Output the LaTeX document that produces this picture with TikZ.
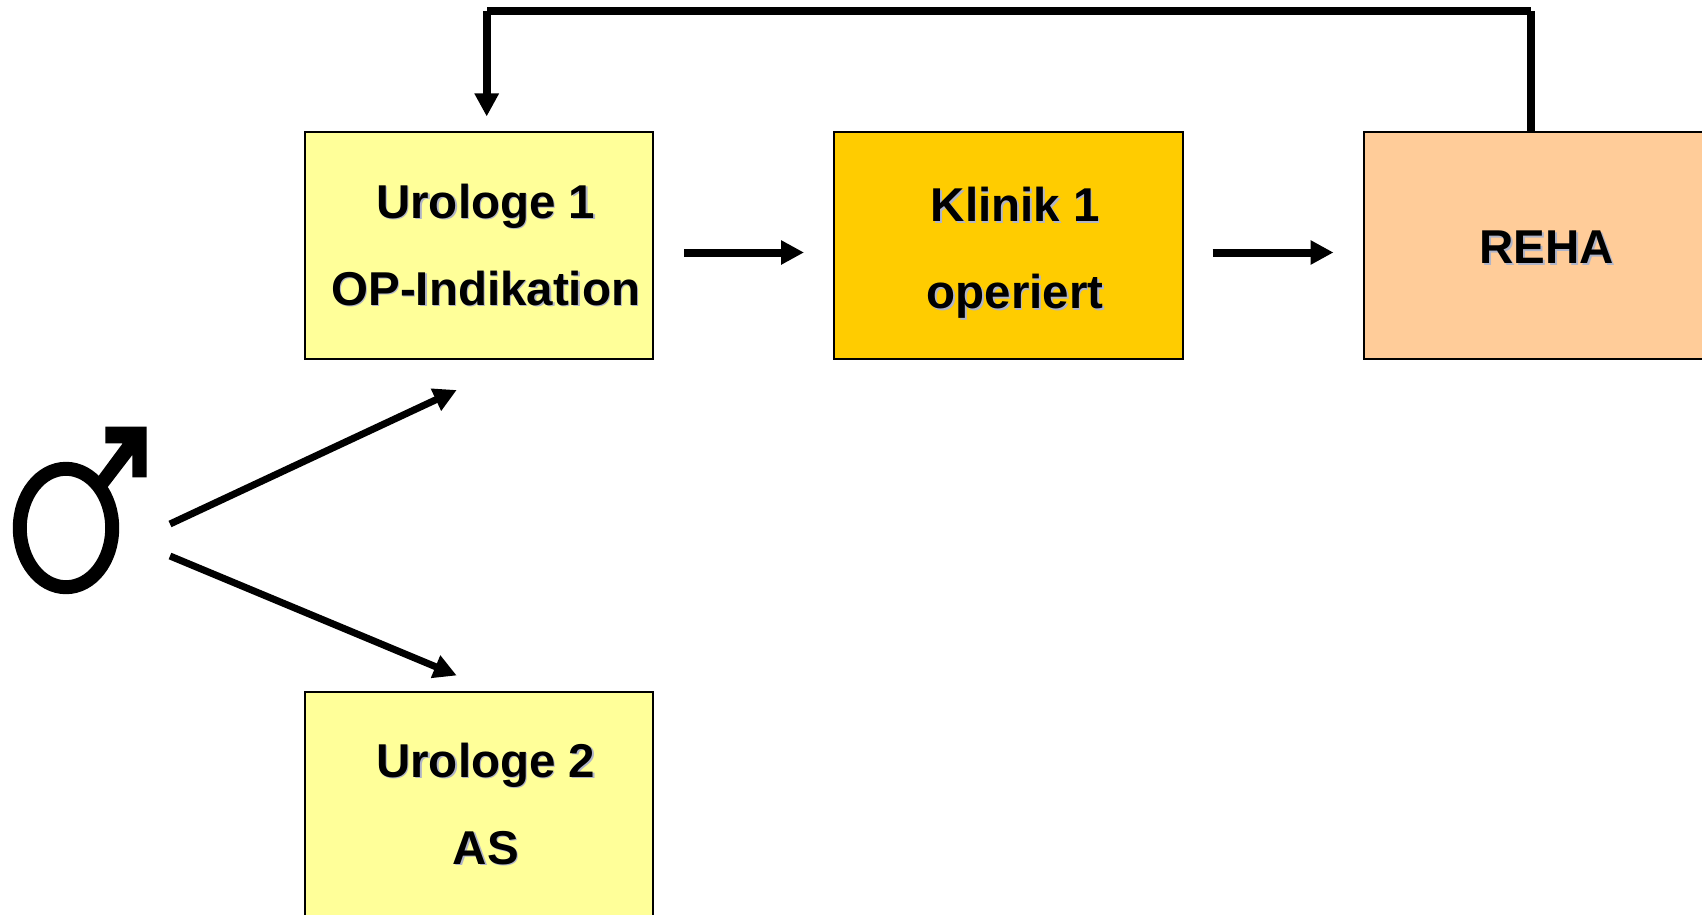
\documentclass[tikz,border=0pt]{standalone}
\usepackage{xcolor}
\usepackage{fontspec}
\setmainfont{Liberation Sans}
\definecolor{praxisyellow}{RGB}{255, 255, 153}
\definecolor{klinikgold}{RGB}{255, 204, 0}
\definecolor{rehapeach}{RGB}{255, 204, 153}
\definecolor{textshadow}{RGB}{176, 180, 200}
\newcommand{\shadowed}[1]{\makebox[0pt][l]{\hspace{1.6pt}\raisebox{-1.6pt}{\textcolor{textshadow}{#1}}}#1}
\usetikzlibrary{arrows.meta,positioning,shapes.geometric}

\begin{document}
\begin{tikzpicture}[
    x=1pt, y=1pt,
    node distance=181pt,
    station/.style={rectangle, draw, line width=2pt, outer sep=0pt, minimum width=348.5pt, minimum height=227pt},
    stationtext/.style={align=center, inner sep=0pt, font=\fontsize{47.5}{87}\selectfont\bfseries},
    malering/.style={ellipse, draw, line width=14pt, inner sep=0pt, outer sep=0pt, minimum width=92.4pt, minimum height=118.4pt},
    arrow/.style={-{Triangle[length=23pt, width=23pt]}, line width=8pt},
    slant/.style={-{Triangle[length=23pt, width=23pt]}, line width=7pt},
    feedback/.style={line width=8pt}
]
\useasboundingbox (0,0) rectangle (1702,-915);

\node[station, fill=praxisyellow] (urologeA) at (478.75,-245.5) {};
\node[station, fill=klinikgold, right=of urologeA] (klinik) {};
\node[station, fill=rehapeach, right=of klinik] (reha) {};
\node[station, fill=praxisyellow, below=332.5pt of urologeA] (urologeB) {};

\node[stationtext, xshift=7pt, yshift=-0.2pt] (urologeAtext) at (urologeA) {\shadowed{Urologe 1}\\\shadowed{OP-Indikation}};
\node[stationtext, xshift=7pt, yshift=-8.5pt] (kliniktext) at (klinik) {\shadowed{Klinik 1}\\\shadowed{operiert}};
\node[stationtext, xshift=9pt, yshift=-2.5pt] (rehatext) at (reha) {\shadowed{REHA}};
\node[stationtext, xshift=7pt, yshift=0.4pt] (urologeBtext) at (urologeB) {\shadowed{Urologe 2}\\\shadowed{AS}};

% male sign
\node[malering] (male) at (66,-528) {};
\fill (male.center) ++(39.3,101.3) -- ++(41.4,0) -- ++(0,-50.6) -- ++(-14.4,0) -- ++(0,22.3) -- ++(-27.3,-35.6) -- ++(-8.7,11.6) -- ++(26.4,35.7) -- ++(-17.4,0) -- cycle;

\draw[arrow] ([shift={(31,-7)}]urologeA.east) -- ([shift={(-30,-7)}]klinik.west);
\draw[arrow] ([shift={(30,-7)}]klinik.east) -- ([shift={(-30,-7)}]reha.west);

\draw[slant] ([shift={(104,4)}]male.center) -- ([shift={(-22,-31)}]urologeA.south);
\draw[slant] ([shift={(104,-28)}]male.center) -- ([shift={(-22,16)}]urologeB.north);

% return path from rehab back to the first urologist
\coordinate (cornerR) at ([xshift=-7pt]reha.north |- 0,-11);
\coordinate (cornerL) at (486.7,-11);
\draw[feedback] ([xshift=-7pt]reha.north) -- (cornerR);
\draw[feedback] (cornerR) -- (cornerL);
\draw[arrow] (cornerL) -- ([yshift=15.5pt]urologeA.north -| cornerL);

\end{tikzpicture}
\end{document}
